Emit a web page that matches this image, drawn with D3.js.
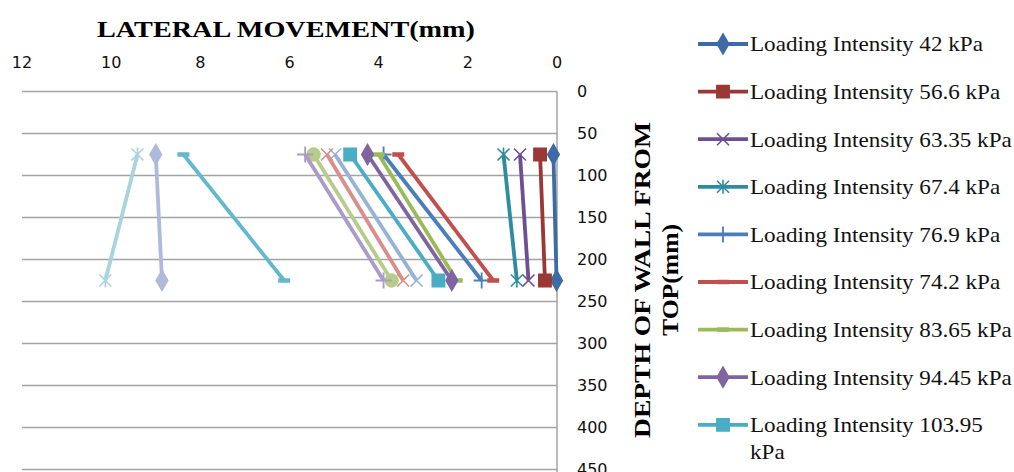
<!DOCTYPE html>
<html>
<head>
<meta charset="utf-8">
<script src="https://cdn.jsdelivr.net/npm/d3@7"></script>
<style>
    body { margin: 0; background: #fff; }
    svg { display: block; }
</style>
</head>
<body>
<div id="chart"></div>
<script>
// Depth points (mm) and lateral movement values (mm)
const depths = [75, 225];

const seriesNames = [
    'Loading Intensity 42 kPa',
    'Loading Intensity 56.6 kPa',
    'Loading Intensity 63.35 kPa',
    'Loading Intensity 67.4 kPa',
    'Loading Intensity 76.9 kPa',
    'Loading Intensity 74.2 kPa',
    'Loading Intensity 83.65 kPa',
    'Loading Intensity 94.45 kPa',
    'Loading Intensity 103.95 kPa'
];

// series whose legend entries fall below the visible picture have no name
const seriesValues = [
    [0.08, 0.01],
    [0.38, 0.27],
    [0.83, 0.64],
    [1.20, 0.90],
    [3.89, 1.69],
    [3.56, 1.43],
    [4.00, 2.25],
    [4.25, 2.36],
    [4.64, 2.66],
    [4.98, 3.15],
    [5.16, 3.45],
    [5.46, 3.71],
    [5.65, 3.89],
    [8.38, 6.12],
    [9.00, 8.86],
    [9.41, 10.13]
];

const seriesColors = [
    '#3d6ba6', '#9a3835', '#6c5093', '#2f8ca0', '#4a7ebb', '#c0504d',
    '#9bbb59', '#8064a2', '#4bacc6', '#95b3d7', '#da8e8c', '#b5cd88',
    '#aa9bc8', '#62b9cd', '#afbadb', '#a9d3df'
];

const seriesMarkers = [
    'diamond', 'square', 'x', 'asterisk', 'plus', 'dash', 'dash', 'diamond',
    'square', 'x', 'x', 'circle', 'plus', 'dash', 'diamond', 'asterisk'
];

const xTicks = [12, 10, 8, 6, 4, 2, 0];
const yTicks = [0, 50, 100, 150, 200, 250, 300, 350, 400, 450];

const width = 1014;
const height = 472;

const svg = d3.select('#chart')
    .append('svg')
    .attr('width', width)
    .attr('height', height);

// scales: movement grows to the left, depth grows downward
const x = d3.scaleLinear().domain([12, 0]).range([22, 557]);
const y = d3.scaleLinear().domain([0, 450]).range([91.5, 469.5]);

const serif = "'Liberation Serif', 'Times New Roman', serif";
const sans = "'DejaVu Sans', sans-serif";

// horizontal gridlines
svg.append('g')
    .selectAll('line')
    .data(yTicks)
    .join('line')
    .attr('x1', x(12))
    .attr('x2', x(0))
    .attr('y1', d => y(d))
    .attr('y2', d => y(d))
    .attr('stroke', '#a3a3a3')
    .attr('stroke-width', 1.5);

// vertical axis line on the right
svg.append('line')
    .attr('x1', x(0))
    .attr('x2', x(0))
    .attr('y1', y(0))
    .attr('y2', height)
    .attr('stroke', '#a3a3a3')
    .attr('stroke-width', 1.5);

// top tick labels
svg.append('g')
    .selectAll('text')
    .data(xTicks)
    .join('text')
    .attr('x', d => x(d))
    .attr('y', 62)
    .attr('dy', '0.35em')
    .attr('text-anchor', 'middle')
    .style('font-family', sans)
    .style('font-size', '16px')
    .attr('fill', '#111')
    .text(d => d);

// right tick labels
svg.append('g')
    .selectAll('text')
    .data(yTicks)
    .join('text')
    .attr('x', 577)
    .attr('y', d => y(d))
    .attr('dy', '0.35em')
    .style('font-family', sans)
    .style('font-size', '16px')
    .attr('fill', '#111')
    .text(d => d);

// axis titles
svg.append('text')
    .attr('x', 97)
    .attr('y', 37)
    .attr('textLength', 378)
    .attr('lengthAdjust', 'spacingAndGlyphs')
    .style('font-family', serif)
    .style('font-size', '24px')
    .style('font-weight', 'bold')
    .text('LATERAL MOVEMENT(mm)');

const yTitle = svg.append('g')
    .attr('transform', 'translate(0,280) rotate(-90)');

yTitle.append('text')
    .attr('x', 0)
    .attr('y', 650)
    .attr('text-anchor', 'middle')
    .attr('textLength', 316)
    .attr('lengthAdjust', 'spacingAndGlyphs')
    .style('font-family', serif)
    .style('font-size', '24px')
    .style('font-weight', 'bold')
    .text('DEPTH OF WALL FROM');

yTitle.append('text')
    .attr('x', 0)
    .attr('y', 678)
    .attr('text-anchor', 'middle')
    .attr('textLength', 112)
    .attr('lengthAdjust', 'spacingAndGlyphs')
    .style('font-family', serif)
    .style('font-size', '24px')
    .style('font-weight', 'bold')
    .text('TOP(mm)');

// marker path for a given type
function markerPath(type) {
    switch (type) {
        case 'diamond': return d3.symbol(d3.symbolDiamond, 115)();
        case 'square': return d3.symbol(d3.symbolSquare, 150)();
        case 'circle': return d3.symbol(d3.symbolCircle, 130)();
        case 'x': return 'M-6,-6L6,6M-6,6L6,-6';
        case 'asterisk': return 'M-6,-6L6,6M-6,6L6,-6M0,-7L0,7';
        case 'plus': return 'M-8,0L8,0M0,-8L0,8';
        case 'dash': return 'M-6,0L6,0';
    }
}

function isStrokeMarker(type) {
    return type === 'x' || type === 'asterisk' || type === 'plus' || type === 'dash';
}

function markerStrokeWidth(type) {
    if (type === 'dash') return 4.5;
    if (type === 'plus') return 1.8;
    return 1.6;
}

const line = d3.line()
    .x(d => x(d.v))
    .y(d => y(d.depth));

// series lines and markers
const seriesData = seriesValues.map((vals, i) => ({
    color: seriesColors[i],
    marker: seriesMarkers[i],
    points: vals.map((v, j) => ({ v: v, depth: depths[j] }))
}));

const series = svg.append('g')
    .selectAll('g')
    .data(seriesData)
    .join('g');

series.append('path')
    .attr('d', d => line(d.points))
    .attr('fill', 'none')
    .attr('stroke', d => d.color)
    .attr('stroke-width', 3.8);

series.each(function(s) {
    d3.select(this).selectAll('path.marker')
        .data(s.points)
        .join('path')
        .attr('class', 'marker')
        .attr('transform', p => `translate(${x(p.v)},${y(p.depth)})`)
        .attr('d', markerPath(s.marker))
        .attr('fill', isStrokeMarker(s.marker) ? 'none' : s.color)
        .attr('stroke', s.color)
        .attr('stroke-width', markerStrokeWidth(s.marker));
});

// legend
const legend = svg.append('g')
    .selectAll('g')
    .data(seriesNames)
    .join('g')
    .attr('transform', (d, i) => `translate(698,${44 + i * 47.6})`);

legend.append('line')
    .attr('x1', 0)
    .attr('x2', 50)
    .attr('stroke', (d, i) => seriesColors[i])
    .attr('stroke-width', 3.8);

legend.append('path')
    .attr('transform', 'translate(25,0)')
    .attr('d', (d, i) => markerPath(seriesMarkers[i]))
    .attr('fill', (d, i) => isStrokeMarker(seriesMarkers[i]) ? 'none' : seriesColors[i])
    .attr('stroke', (d, i) => seriesColors[i])
    .attr('stroke-width', (d, i) => markerStrokeWidth(seriesMarkers[i]));

legend.each(function(name) {
    const g = d3.select(this);
    // the last entry wraps its unit onto a second line
    const parts = name.length > 27 ? [name.replace(/ kPa$/, ''), 'kPa'] : [name];
    parts.forEach((t, k) => {
        const txt = g.append('text')
            .attr('x', 52)
            .attr('y', k * 27)
            .attr('dy', '0.35em')
            .style('font-family', serif)
            .style('font-size', '21px')
            .attr('fill', '#111')
            .text(t);
        const len = txt.node().getComputedTextLength();
        txt.attr('textLength', len * 1.1)
            .attr('lengthAdjust', 'spacingAndGlyphs');
    });
});
</script>
</body>
</html>
